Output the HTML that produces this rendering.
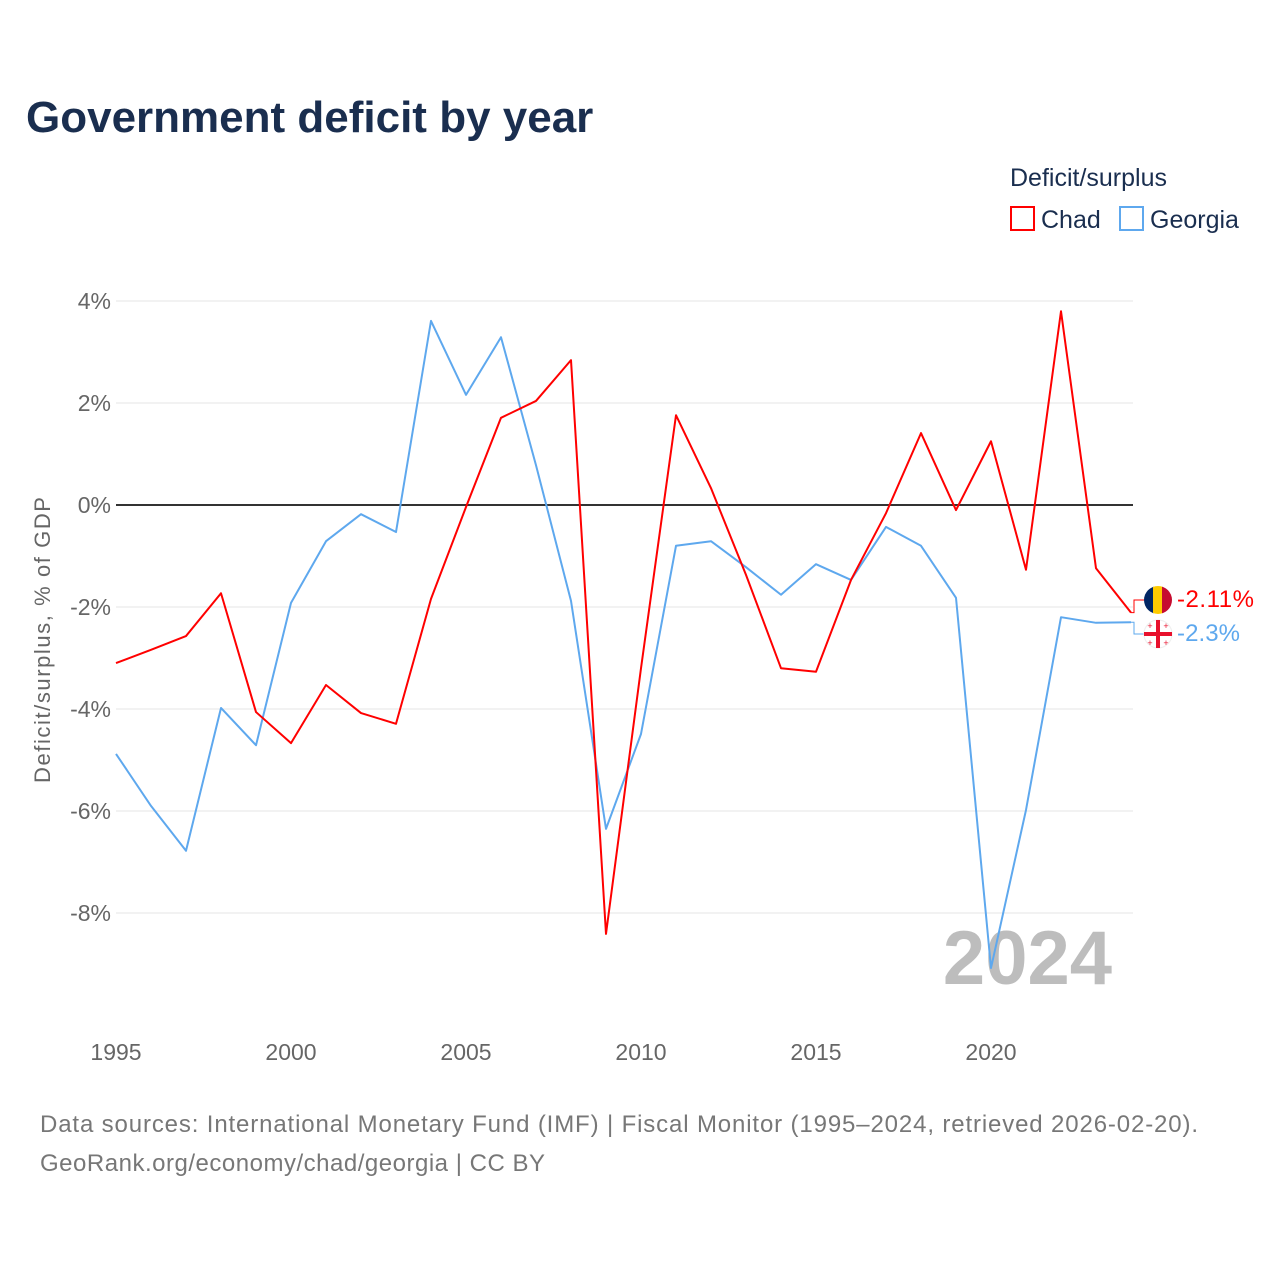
<!DOCTYPE html>
<html><head><meta charset="utf-8">
<style>
body{margin:0;background:#fff;font-family:"Liberation Sans",sans-serif;}
svg{display:block}
</style></head>
<body>
<svg id="chart" width="1280" height="1280" viewBox="0 0 1280 1280">
<text x="26" y="132" font-size="44" font-weight="bold" fill="#1a2e4f">Government deficit by year</text>
<text x="1010" y="186" font-size="25" fill="#1a2e4f">Deficit/surplus</text>
<g>
<rect x="1011" y="207" width="23" height="23" fill="none" stroke="#ff0000" stroke-width="2"/>
<text x="1041" y="228" font-size="25" fill="#1a2e4f">Chad</text></g>
<g>
<rect x="1120" y="207" width="23" height="23" fill="none" stroke="#5ea8ee" stroke-width="2"/>
<text x="1150" y="228" font-size="25" fill="#1a2e4f">Georgia</text></g>
<text transform="translate(50,640) rotate(-90)" text-anchor="middle" font-size="22" fill="#666" textLength="286">Deficit/surplus, % of GDP</text>
<g id="grid"></g><g id="yticks"></g><g id="xticks"></g>
<text x="1112" y="984" text-anchor="end" font-size="76" font-weight="bold" fill="#bdbdbd">2024</text>
<g id="series"></g>
<g>
<clipPath id="c1"><circle cx="1158" cy="600" r="14"/></clipPath>
<g clip-path="url(#c1)"><rect x="1144" y="586" width="10" height="28" fill="#002664"/><rect x="1153" y="586" width="10" height="28" fill="#fecb00"/><rect x="1162" y="586" width="10" height="28" fill="#c60c30"/></g></g>
<g>
<circle cx="1158" cy="634" r="14" fill="#fff" stroke="#eee"/>
<rect x="1144" y="632" width="28" height="4" fill="#e8112d"/><rect x="1156" y="620" width="4" height="28" fill="#e8112d"/>
<text x="1150" y="629" font-size="9" fill="#e8112d" text-anchor="middle">+</text><text x="1166" y="629" font-size="9" fill="#e8112d" text-anchor="middle">+</text>
<text x="1150" y="646" font-size="9" fill="#e8112d" text-anchor="middle">+</text><text x="1166" y="646" font-size="9" fill="#e8112d" text-anchor="middle">+</text></g>
<text x="1177" y="607" font-size="24" fill="#ff0000" textLength="77">-2.11%</text>
<text x="1177" y="641" font-size="24" fill="#5ea8ee" textLength="63">-2.3%</text>
<text x="40" y="1132" font-size="24" fill="#777" textLength="1158">Data sources: International Monetary Fund (IMF) | Fiscal Monitor (1995–2024, retrieved 2026-02-20).</text>
<text x="40" y="1171" font-size="24" fill="#777" textLength="505">GeoRank.org/economy/chad/georgia | CC BY</text>
</svg>
<script>
const years=[1995,1996,1997,1998,1999,2000,2001,2002,2003,2004,2005,2006,2007,2008,2009,2010,2011,2012,2013,2014,2015,2016,2017,2018,2019,2020,2021,2022,2023,2024];
const chad=[-3.1,-2.84,-2.57,-1.73,-4.06,-4.67,-3.53,-4.08,-4.29,-1.84,-0.04,1.71,2.04,2.84,-8.41,-3.2,1.76,0.33,-1.37,-3.2,-3.27,-1.47,-0.16,1.41,-0.1,1.25,-1.27,3.8,-1.24,-2.11];
const georgia=[-4.88,-5.9,-6.78,-3.98,-4.71,-1.92,-0.71,-0.18,-0.53,3.61,2.16,3.29,0.78,-1.88,-6.35,-4.49,-0.8,-0.71,-1.22,-1.76,-1.16,-1.47,-0.43,-0.8,-1.82,-9.08,-5.98,-2.2,-2.31,-2.3];
const yTicks=[4,2,0,-2,-4,-6,-8];
const xTicks=[1995,2000,2005,2010,2015,2020];
const NS="http://www.w3.org/2000/svg";
const x=v=>116+(v-1995)*35;
const y=v=>505-v*51;
function mk(tag,attrs,parent){const e=document.createElementNS(NS,tag);for(const k in attrs)e.setAttribute(k,attrs[k]);document.getElementById(parent).appendChild(e);return e;}
yTicks.forEach(t=>{
 const l=mk('line',{x1:116,x2:1133,y1:y(t),y2:y(t),stroke:t===0?'#333':'#e6e6e6','stroke-width':t===0?2:1},'grid');
 
 
 const tx=mk('text',{x:111,y:y(t)+8,'text-anchor':'end','font-size':23,fill:'#666'},'yticks');
 tx.textContent=t+'%';
 
 
});
xTicks.forEach(t=>{
 const tx=mk('text',{x:x(t),y:1060,'text-anchor':'middle','font-size':23,fill:'#666'},'xticks');
 tx.textContent=t;
 
 
});
function line(vals,color,name){
 const p=mk('path',{d:vals.map((v,i)=>(i?'L':'M')+x(years[i])+','+y(v)).join(''),fill:'none',stroke:color,'stroke-width':2,'stroke-linejoin':'round'},'series');
 
 
}
line(georgia,'#5ea8ee','georgia-line');
line(chad,'#ff0000','chad-line');
const lc=chad[chad.length-1],lg=georgia[georgia.length-1];
const c1=mk('path',{d:`M${x(2024)},${y(lc)}L1134,${y(lc)}L1134,600L1144,600`,fill:'none',stroke:'#ff0000','stroke-width':1},'series');


const c2=mk('path',{d:`M${x(2024)},${y(lg)}L1134,${y(lg)}L1134,634L1144,634`,fill:'none',stroke:'#5ea8ee','stroke-width':1},'series');


</script>
</body></html>
